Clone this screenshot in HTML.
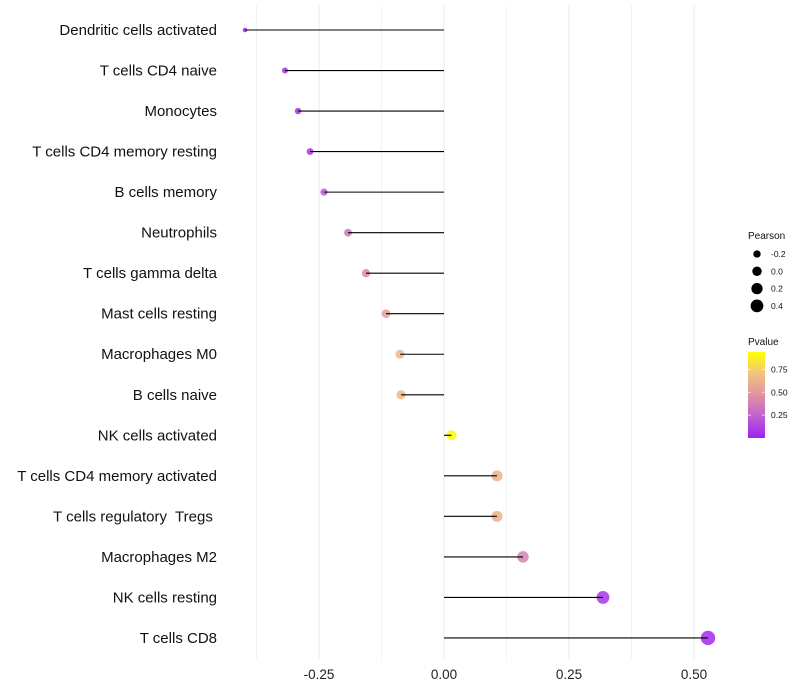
<!DOCTYPE html>
<html><head><meta charset="utf-8">
<style>
html,body{margin:0;padding:0;background:#fff;}
svg{display:block;font-family:"Liberation Sans",sans-serif;}
text{white-space:pre;}
</style></head>
<body>
<svg id="chart" width="800" height="700" viewBox="0 0 800 700" xmlns="http://www.w3.org/2000/svg">
<g id="grid"></g>
<g id="marks"></g>
<g id="ylabels"></g>
<g id="xlabels"></g>
<g id="legend"></g>
</svg>
<script>
const categories = ["Dendritic cells activated","T cells CD4 naive","Monocytes","T cells CD4 memory resting","B cells memory","Neutrophils","T cells gamma delta","Mast cells resting","Macrophages M0","B cells naive","NK cells activated","T cells CD4 memory activated","T cells regulatory  Tregs ","Macrophages M2","NK cells resting","T cells CD8"];
const pearson = [-0.398,-0.318,-0.292,-0.268,-0.24,-0.192,-0.156,-0.116,-0.088,-0.086,0.015,0.106,0.106,0.158,0.318,0.528];
const pvalues = [0.02,0.05,0.06,0.08,0.2,0.35,0.45,0.55,0.68,0.68,0.97,0.65,0.65,0.42,0.08,0.03];
const xTicks = [-0.25,0,0.25,0.5];
const xTickLabels = ["-0.25","0.00","0.25","0.50"];
const xMinor = [-0.375,-0.125,0.125,0.375];
const sizeLegend = [-0.2,0,0.2,0.4];
const sizeLegendLabels = ["-0.2","0.0","0.2","0.4"];
const pTicks = [0.25,0.5,0.75];
const pTickLabels = ["0.25","0.50","0.75"];

const NS="http://www.w3.org/2000/svg";
const x = v => 444 + v*500;
const y = i => 30 + i*40.53;
const rad = v => Math.sqrt(Math.max(3, 5 + (v+0.4)*50));
const stops=[[0,[160,32,240]],[0.25,[192,96,208]],[0.5,[226,146,160]],[0.75,[242,196,126]],[1,[255,255,0]]];
function col(p){for(let k=0;k<stops.length-1;k++){const a=stops[k],b=stops[k+1];if(p<=b[0]){const t=(p-a[0])/(b[0]-a[0]);const c=a[1].map((v,j)=>Math.round(v+(b[1][j]-v)*t));return `rgb(${c})`;}}return 'rgb(255,255,0)';}
function mk(tag,attrs,parent){const e=document.createElementNS(NS,tag);for(const k in attrs)e.setAttribute(k,attrs[k]);parent.appendChild(e);return e;}
const grid=document.getElementById('grid'),marks=document.getElementById('marks'),yl=document.getElementById('ylabels'),xl=document.getElementById('xlabels'),lg=document.getElementById('legend');
xMinor.forEach(v=>{const l=mk('line',{x1:x(v),x2:x(v),y1:5,y2:660,stroke:'#f3f3f3','stroke-width':1},grid);

});
xTicks.forEach((v,i)=>{const l=mk('line',{x1:x(v),x2:x(v),y1:5,y2:660,stroke:'#ebebeb','stroke-width':1},grid);


const t=mk('text',{x:x(v),y:679,'text-anchor':'middle','font-size':13.5,fill:'#222'},xl);t.textContent=xTickLabels[i];

});
categories.forEach((c,i)=>{
const cy=y(i);
const dot=mk('circle',{cx:x(pearson[i]),cy:cy,r:rad(pearson[i]),fill:col(pvalues[i]),'fill-opacity':0.85},marks);


const seg=mk('line',{x1:x(0),x2:x(pearson[i]),y1:cy,y2:cy,stroke:'#000','stroke-width':1.1},marks);


const t=mk('text',{x:217,y:cy+5,'text-anchor':'end','font-size':15,fill:'#111'},yl);t.textContent=c;


});
let t=mk('text',{x:748,y:239,'font-size':10,fill:'#111'},lg);t.textContent='Pearson';


sizeLegend.forEach((v,i)=>{const cy=254+i*17.3;
const c=mk('circle',{cx:757,cy:cy,r:rad(v)*0.95,fill:'#000'},lg);


const tt=mk('text',{x:771,y:cy+3,'font-size':8.5,fill:'#111'},lg);tt.textContent=sizeLegendLabels[i];

});
t=mk('text',{x:748,y:345,'font-size':10,fill:'#111'},lg);t.textContent='Pvalue';


const defs=mk('defs',{},lg);const gr=mk('linearGradient',{id:'pg',x1:0,y1:1,x2:0,y2:0},defs);
stops.forEach(s=>mk('stop',{offset:s[0],'stop-color':`rgb(${s[1]})`},gr));
const pTop=352,pBot=438,py=p=>438-p*(438-352)/0.94;
const bar=mk('rect',{x:748,y:pTop,width:17,height:pBot-pTop,fill:'url(#pg)'},lg);


pTicks.forEach((p,i)=>{const yy=py(p);
mk('line',{x1:748,x2:751,y1:yy,y2:yy,stroke:'#fff','stroke-opacity':0.7},lg);
mk('line',{x1:762,x2:765,y1:yy,y2:yy,stroke:'#fff','stroke-opacity':0.7},lg);
const tt=mk('text',{x:771,y:yy+3,'font-size':8.5,fill:'#111'},lg);tt.textContent=pTickLabels[i];

});
</script>
</body></html>
